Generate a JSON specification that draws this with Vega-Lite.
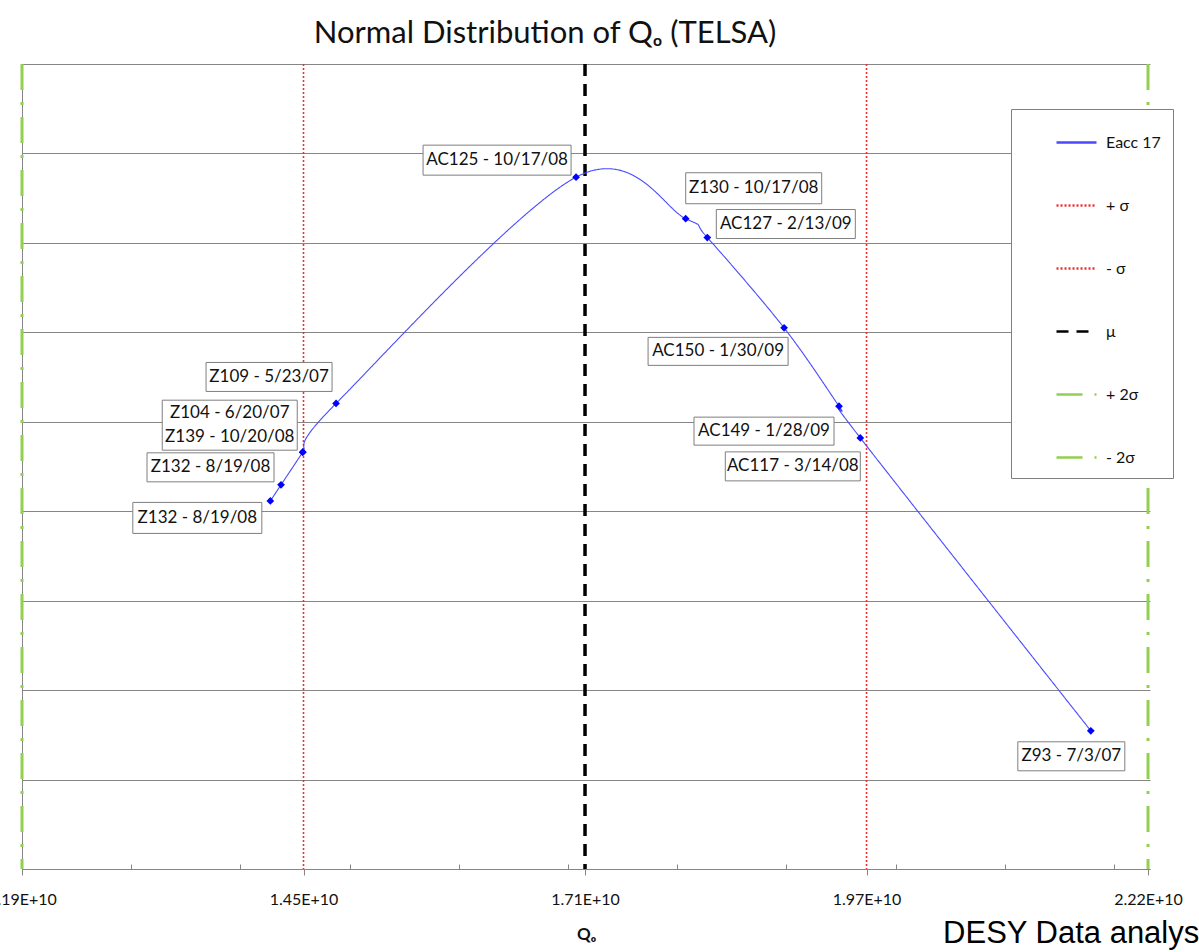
{
  "$schema": "https://vega.github.io/schema/vega-lite/v6.json",
  "autosize": {"type": "none"},
  "width": 1128,
  "height": 805,
  "padding": {"left": 22, "top": 64, "right": 49, "bottom": 83},
  "background": "white",
  "config": {"view": {"stroke": null}, "font": "Lato"},
  "title": {"text": "Normal Distribution of Q\u2092 (TELSA)", "font": "Lato", "fontSize": 31, "fontWeight": "normal", "color": "#111111", "anchor": "middle", "frame": "group", "dx": -41, "offset": 12},
  "datasets": {
    "pts": [
      {"n": 1, "label": "Z132 - 8/19/08", "q": 14198000000, "pdf": 8.23e-11},
      {"n": 2, "label": "Z132 - 8/19/08", "q": 14296000000, "pdf": 8.59e-11},
      {"n": 3, "label": "Z104 - 6/20/07", "q": 14495000000, "pdf": 9.32e-11},
      {"n": 4, "label": "Z139 - 10/20/08", "q": 14495000000, "pdf": 9.32e-11},
      {"n": 5, "label": "Z109 - 5/23/07", "q": 14800000000, "pdf": 1.041e-10},
      {"n": 6, "label": "AC125 - 10/17/08", "q": 16998000000, "pdf": 1.547e-10},
      {"n": 7, "label": "Z130 - 10/17/08", "q": 18002000000, "pdf": 1.454e-10},
      {"n": 8, "label": "AC127 - 2/13/09", "q": 18200000000, "pdf": 1.412e-10},
      {"n": 9, "label": "AC150 - 1/30/09", "q": 18903000000, "pdf": 1.21e-10},
      {"n": 10, "label": "AC149 - 1/28/09", "q": 19406000000, "pdf": 1.035e-10},
      {"n": 11, "label": "AC117 - 3/14/08", "q": 19601000000, "pdf": 9.64e-11},
      {"n": 12, "label": "Z93 - 7/3/07", "q": 21712000000, "pdf": 3.09e-11}
    ],
    "refs": [
      {"series": "- 2\u03c3", "q": 11924000000},
      {"series": "- \u03c3", "q": 14502000000},
      {"series": "\u03bc", "q": 17080000000},
      {"series": "+ \u03c3", "q": 19658000000},
      {"series": "+ 2\u03c3", "q": 22236000000}
    ]
  },
  "layer": [
    {
      "data": {"name": "refs"},
      "mark": {"type": "rule"},
      "encoding": {
        "x": {
          "field": "q", "type": "quantitative",
          "scale": {"domain": [11924000000, 22254000000], "nice": false, "zero": false},
          "axis": {
            "title": "Q\u2092", "titleFont": "Lato", "titleFontSize": 17, "titleFontWeight": "bold", "titleColor": "#111111", "titlePadding": 19,
            "values": [11924000000, 12924000000, 13924000000, 14502000000, 14924000000, 15924000000, 16924000000, 17080000000, 17924000000, 18924000000, 19658000000, 19924000000, 20924000000, 21924000000, 22236000000],
            "labelExpr": "indexof([11924000000,14502000000,17080000000,19658000000,22236000000], datum.value) >= 0 ? replace(format(datum.value, '.2e'), 'e', 'E') : ''",
            "labelOverlap": false, "labelFont": "Lato", "labelFontSize": 16, "labelColor": "#111111", "labelPadding": 16, "labelFlush": false,
            "grid": false, "domainColor": "#868686", "tickColor": "#868686",
            "tickSize": {"condition": {"test": "indexof([11924000000,14502000000,17080000000,19658000000,22236000000], datum.value) >= 0", "value": 6}, "value": -5}
          }
        },
        "color": {
          "field": "series", "type": "nominal",
          "scale": {"domain": ["Eacc 17", "+ \u03c3", "- \u03c3", "\u03bc", "+ 2\u03c3", "- 2\u03c3"], "range": ["#4a4aff", "#f03030", "#f03030", "#000000", "#92d050", "#92d050"]},
          "legend": {"title": null, "orient": "none", "legendX": 989, "legendY": 45, "fillColor": "white", "strokeColor": "#7f7f7f", "padding": 12, "symbolType": "stroke", "symbolSize": 1600, "symbolOffset": 32, "symbolStrokeWidth": 2.5, "rowPadding": 33, "labelFont": "Lato", "labelFontSize": 16, "labelColor": "#111111", "labelOffset": 8}
        },
        "strokeDash": {
          "field": "series", "type": "nominal",
          "scale": {"domain": ["Eacc 17", "+ \u03c3", "- \u03c3", "\u03bc", "+ 2\u03c3", "- 2\u03c3"], "range": [[1, 0], [2, 2], [2, 2], [12, 8], [26, 12, 3, 12], [26, 12, 3, 12]]},
          "legend": {"title": null}
        },
        "strokeWidth": {
          "field": "series", "type": "nominal",
          "scale": {"type": "ordinal", "domain": ["+ \u03c3", "- \u03c3", "\u03bc", "+ 2\u03c3", "- 2\u03c3"], "range": [1.6, 1.6, 3.5, 3, 3]},
          "legend": null
        }
      }
    },
    {
      "data": {"name": "pts"},
      "mark": {"type": "line", "interpolate": "cardinal", "strokeWidth": 1.1},
      "encoding": {
        "x": {"field": "q", "type": "quantitative"},
        "y": {
          "field": "pdf", "type": "quantitative",
          "scale": {"domain": [0, 1.8e-10], "nice": false, "zero": true},
          "axis": {"title": null, "labels": false, "ticks": false, "grid": true, "gridColor": "#868686", "gridWidth": 1, "domainColor": "#868686",
                   "values": [0, 2e-11, 4e-11, 6e-11, 8e-11, 1e-10, 1.2e-10, 1.4e-10, 1.6e-10, 1.8e-10]}
        },
        "color": {"datum": "Eacc 17", "type": "nominal"},
        "strokeDash": {"datum": "Eacc 17", "type": "nominal"}
      }
    },
    {
      "data": {"name": "pts"},
      "mark": {"type": "point", "shape": "diamond", "filled": true, "color": "#0000ff", "size": 60, "opacity": 1},
      "encoding": {"x": {"field": "q", "type": "quantitative"}, "y": {"field": "pdf", "type": "quantitative"}}
    },
    {
      "data": {"name": "pts"}, "transform": [{"filter": "datum.n == 1"}],
      "encoding": {"x": {"field": "q", "type": "quantitative"}, "y": {"field": "pdf", "type": "quantitative"}},
      "layer": [
        {"mark": {"type": "point", "shape": "M-1,-0.2403H1V0.2403H-1Z", "size": 16641, "filled": true, "fill": "white", "stroke": "#7f7f7f", "strokeWidth": 1, "opacity": 1, "xOffset": -73, "yOffset": 17}},
        {"mark": {"type": "text", "font": "Lato", "fontSize": 17, "color": "#111111", "align": "center", "baseline": "middle", "xOffset": -73, "yOffset": 17}, "encoding": {"text": {"field": "label"}}}
      ]
    },
    {
      "data": {"name": "pts"}, "transform": [{"filter": "datum.n == 2"}],
      "encoding": {"x": {"field": "q", "type": "quantitative"}, "y": {"field": "pdf", "type": "quantitative"}},
      "layer": [
        {"mark": {"type": "point", "shape": "M-1,-0.2283H1V0.2283H-1Z", "size": 16129, "filled": true, "fill": "white", "stroke": "#7f7f7f", "strokeWidth": 1, "opacity": 1, "xOffset": -70.5, "yOffset": -17.5}},
        {"mark": {"type": "text", "font": "Lato", "fontSize": 17, "color": "#111111", "align": "center", "baseline": "middle", "xOffset": -70.5, "yOffset": -17.5}, "encoding": {"text": {"field": "label"}}}
      ]
    },
    {
      "data": {"name": "pts"}, "transform": [{"filter": "datum.n == 3"}],
      "encoding": {"x": {"field": "q", "type": "quantitative"}, "y": {"field": "pdf", "type": "quantitative"}},
      "layer": [
        {"mark": {"type": "point", "shape": "M-1,-0.3704H1V0.3704H-1Z", "size": 18225, "filled": true, "fill": "white", "stroke": "#7f7f7f", "strokeWidth": 1, "opacity": 1, "xOffset": -73, "yOffset": -27}},
        {"mark": {"type": "text", "font": "Lato", "fontSize": 17, "color": "#111111", "align": "center", "baseline": "middle", "xOffset": -73, "yOffset": -39}, "encoding": {"text": {"field": "label"}}}
      ]
    },
    {
      "data": {"name": "pts"}, "transform": [{"filter": "datum.n == 4"}],
      "mark": {"type": "text", "font": "Lato", "fontSize": 17, "color": "#111111", "align": "center", "baseline": "middle", "xOffset": -73, "yOffset": -15},
      "encoding": {"x": {"field": "q", "type": "quantitative"}, "y": {"field": "pdf", "type": "quantitative"}, "text": {"field": "label"}}
    },
    {
      "data": {"name": "pts"}, "transform": [{"filter": "datum.n == 5"}],
      "encoding": {"x": {"field": "q", "type": "quantitative"}, "y": {"field": "pdf", "type": "quantitative"}},
      "layer": [
        {"mark": {"type": "point", "shape": "M-1,-0.2302H1V0.2302H-1Z", "size": 15876, "filled": true, "fill": "white", "stroke": "#7f7f7f", "strokeWidth": 1, "opacity": 1, "xOffset": -67, "yOffset": -26.5}},
        {"mark": {"type": "text", "font": "Lato", "fontSize": 17, "color": "#111111", "align": "center", "baseline": "middle", "xOffset": -67, "yOffset": -26.5}, "encoding": {"text": {"field": "label"}}}
      ]
    },
    {
      "data": {"name": "pts"}, "transform": [{"filter": "datum.n == 6"}],
      "encoding": {"x": {"field": "q", "type": "quantitative"}, "y": {"field": "pdf", "type": "quantitative"}},
      "layer": [
        {"mark": {"type": "point", "shape": "M-1,-0.2027H1V0.2027H-1Z", "size": 21904, "filled": true, "fill": "white", "stroke": "#7f7f7f", "strokeWidth": 1, "opacity": 1, "xOffset": -79, "yOffset": -17}},
        {"mark": {"type": "text", "font": "Lato", "fontSize": 17, "color": "#111111", "align": "center", "baseline": "middle", "xOffset": -79, "yOffset": -17}, "encoding": {"text": {"field": "label"}}}
      ]
    },
    {
      "data": {"name": "pts"}, "transform": [{"filter": "datum.n == 7"}],
      "encoding": {"x": {"field": "q", "type": "quantitative"}, "y": {"field": "pdf", "type": "quantitative"}},
      "layer": [
        {"mark": {"type": "point", "shape": "M-1,-0.2279H1V0.2279H-1Z", "size": 18496, "filled": true, "fill": "white", "stroke": "#7f7f7f", "strokeWidth": 1, "opacity": 1, "xOffset": 68, "yOffset": -30.5}},
        {"mark": {"type": "text", "font": "Lato", "fontSize": 17, "color": "#111111", "align": "center", "baseline": "middle", "xOffset": 68, "yOffset": -30.5}, "encoding": {"text": {"field": "label"}}}
      ]
    },
    {
      "data": {"name": "pts"}, "transform": [{"filter": "datum.n == 8"}],
      "encoding": {"x": {"field": "q", "type": "quantitative"}, "y": {"field": "pdf", "type": "quantitative"}},
      "layer": [
        {"mark": {"type": "point", "shape": "M-1,-0.2086H1V0.2086H-1Z", "size": 19321, "filled": true, "fill": "white", "stroke": "#7f7f7f", "strokeWidth": 1, "opacity": 1, "xOffset": 78.5, "yOffset": -13.5}},
        {"mark": {"type": "text", "font": "Lato", "fontSize": 17, "color": "#111111", "align": "center", "baseline": "middle", "xOffset": 78.5, "yOffset": -13.5}, "encoding": {"text": {"field": "label"}}}
      ]
    },
    {
      "data": {"name": "pts"}, "transform": [{"filter": "datum.n == 9"}],
      "encoding": {"x": {"field": "q", "type": "quantitative"}, "y": {"field": "pdf", "type": "quantitative"}},
      "layer": [
        {"mark": {"type": "point", "shape": "M-1,-0.2H1V0.2H-1Z", "size": 19600, "filled": true, "fill": "white", "stroke": "#7f7f7f", "strokeWidth": 1, "opacity": 1, "xOffset": -66, "yOffset": 23.5}},
        {"mark": {"type": "text", "font": "Lato", "fontSize": 17, "color": "#111111", "align": "center", "baseline": "middle", "xOffset": -66, "yOffset": 23.5}, "encoding": {"text": {"field": "label"}}}
      ]
    },
    {
      "data": {"name": "pts"}, "transform": [{"filter": "datum.n == 10"}],
      "encoding": {"x": {"field": "q", "type": "quantitative"}, "y": {"field": "pdf", "type": "quantitative"}},
      "layer": [
        {"mark": {"type": "point", "shape": "M-1,-0.2H1V0.2H-1Z", "size": 19600, "filled": true, "fill": "white", "stroke": "#7f7f7f", "strokeWidth": 1, "opacity": 1, "xOffset": -75, "yOffset": 25}},
        {"mark": {"type": "text", "font": "Lato", "fontSize": 17, "color": "#111111", "align": "center", "baseline": "middle", "xOffset": -75, "yOffset": 25}, "encoding": {"text": {"field": "label"}}}
      ]
    },
    {
      "data": {"name": "pts"}, "transform": [{"filter": "datum.n == 11"}],
      "encoding": {"x": {"field": "q", "type": "quantitative"}, "y": {"field": "pdf", "type": "quantitative"}},
      "layer": [
        {"mark": {"type": "point", "shape": "M-1,-0.2148H1V0.2148H-1Z", "size": 18225, "filled": true, "fill": "white", "stroke": "#7f7f7f", "strokeWidth": 1, "opacity": 1, "xOffset": -67.5, "yOffset": 28.5}},
        {"mark": {"type": "text", "font": "Lato", "fontSize": 17, "color": "#111111", "align": "center", "baseline": "middle", "xOffset": -67.5, "yOffset": 28.5}, "encoding": {"text": {"field": "label"}}}
      ]
    },
    {
      "data": {"name": "pts"}, "transform": [{"filter": "datum.n == 12"}],
      "encoding": {"x": {"field": "q", "type": "quantitative"}, "y": {"field": "pdf", "type": "quantitative"}},
      "layer": [
        {"mark": {"type": "point", "shape": "M-1,-0.271H1V0.271H-1Z", "size": 11449, "filled": true, "fill": "white", "stroke": "#7f7f7f", "strokeWidth": 1, "opacity": 1, "xOffset": -19.5, "yOffset": 25.5}},
        {"mark": {"type": "text", "font": "Lato", "fontSize": 17, "color": "#111111", "align": "center", "baseline": "middle", "xOffset": -19.5, "yOffset": 25.5}, "encoding": {"text": {"field": "label"}}}
      ]
    },
    {
      "data": {"values": [{}]},
      "mark": {"type": "text", "text": "DESY Data analysis", "font": "Liberation Sans", "fontSize": 31, "align": "left", "baseline": "alphabetic", "color": "#000000", "clip": false},
      "encoding": {"x": {"datum": 20359000000, "type": "quantitative"}, "y": {"datum": -1.66e-11, "type": "quantitative"}}
    }
  ]
}
